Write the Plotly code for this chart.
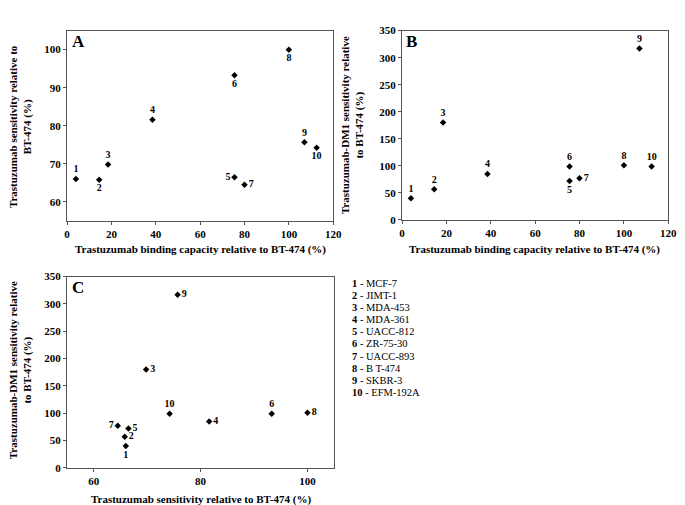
import plotly.graph_objects as go

W, H = 685, 505

ids = ["1", "2", "3", "4", "5", "6", "7", "8", "9", "10"]
cell_lines = ["MCF-7", "JIMT-1", "MDA-453", "MDA-361", "UACC-812",
              "ZR-75-30", "UACC-893", "B T-474", "SKBR-3", "EFM-192A"]
binding = [4, 14.5, 18.5, 38.5, 75.5, 75.5, 80, 100, 107, 112.5]
tras_sens = [66, 65.8, 69.8, 81.6, 66.5, 93.3, 64.5, 100, 75.7, 74.2]
tdm1_sens = [40, 57, 180, 85, 72, 99, 77, 101, 317, 99]

pos_a = ["top center", "bottom center", "top center", "top center", "middle left",
         "bottom center", "middle right", "bottom center", "top center", "bottom center"]
pos_b = ["top center", "top center", "top center", "top center", "bottom center",
         "top center", "middle right", "top center", "top center", "top center"]
pos_c = ["bottom center", "middle right", "middle right", "middle right", "middle right",
         "top center", "middle left", "middle right", "middle right", "top center"]

FONT = "Liberation Serif, Times New Roman, serif"

def px_x(p):
    return p / W

def px_y(p):
    return 1 - p / H

fig = go.Figure()

panels = [
    ("x", "y", binding, tras_sens, pos_a),
    ("x2", "y2", binding, tdm1_sens, pos_b),
    ("x3", "y3", tras_sens, tdm1_sens, pos_c),
]
for xa, ya, xs, ys, pos in panels:
    fig.add_trace(go.Scatter(
        x=xs, y=ys, xaxis=xa, yaxis=ya, mode="markers+text",
        text=["<b>%s</b>" % i for i in ids], textposition=pos,
        textfont=dict(family=FONT, size=10, color="black"),
        marker=dict(symbol="diamond", size=5, color="black"),
        showlegend=False, cliponaxis=False,
    ))

axis_common = dict(
    showgrid=False, zeroline=False, showline=True, linecolor="#555555",
    linewidth=1, mirror=True, ticks="outside", ticklen=3, tickcolor="#555555",
    tickfont=dict(family=FONT, size=11, color="black", weight="bold"),
)

fig.update_layout(
    width=W, height=H, margin=dict(l=0, r=0, t=0, b=0),
    paper_bgcolor="white", plot_bgcolor="white",
    xaxis=dict(domain=[px_x(57), px_x(328)], range=[0, 120], dtick=20,
               anchor="y", **axis_common),
    yaxis=dict(domain=[px_y(212), px_y(17)], range=[55, 105], dtick=10,
               anchor="x", **axis_common),
    xaxis2=dict(domain=[px_x(398), px_x(669)], range=[0, 120], dtick=20,
                anchor="y2", **axis_common),
    yaxis2=dict(domain=[px_y(211), px_y(17)], range=[0, 350], dtick=50,
                anchor="x2", **axis_common),
    xaxis3=dict(domain=[px_x(57), px_x(329)], range=[55, 105], tickvals=[60, 80, 100],
                anchor="y3", **axis_common),
    yaxis3=dict(domain=[px_y(465), px_y(269)], range=[0, 350], dtick=50,
                anchor="x3", **axis_common),
)

ann = []
title_font = dict(family=FONT, size=11, color="black", weight="bold")
# x axis titles
for cx, cy, txt in [(193, 241, "Trastuzumab binding capacity relative to BT-474 (%)"),
                    (533, 241, "Trastuzumab binding capacity relative to BT-474 (%)"),
                    (193, 497, "Trastuzumab sensitivity relative to BT-474 (%)")]:
    ann.append(dict(x=px_x(cx), y=px_y(cy), xref="paper", yref="paper", text=txt,
                    showarrow=False, font=title_font, xanchor="center", yanchor="middle"))
# y axis titles
for cx, cy, txt in [(9, 115, "Trastuzumab sensitivity relative to<br>BT-474 (%)"),
                    (347, 114, "Trastuzumab-DM1 sensitivity relative<br>to BT-474 (%)"),
                    (9, 365, "Trastuzumab-DM1 sensitivity relative<br>to BT-474 (%)")]:
    ann.append(dict(x=px_x(cx), y=px_y(cy), xref="paper", yref="paper", text=txt,
                    showarrow=False, font=title_font, textangle=-90, borderpad=0,
                    xanchor="center", yanchor="middle"))
# panel letters
for cx, cy, txt in [(60, 16, "A"), (400, 16, "B"), (60, 268, "C")]:
    ann.append(dict(x=px_x(cx), y=px_y(cy), xref="paper", yref="paper", text=txt,
                    showarrow=False, xanchor="left", yanchor="top",
                    font=dict(family=FONT, size=17, color="black", weight="bold")))
# legend
for k, (i, name) in enumerate(zip(ids, cell_lines)):
    ann.append(dict(x=px_x(346), y=px_y(276 + k * 12.4), xref="paper", yref="paper",
                    text="<b>%s</b> - %s" % (i, name), showarrow=False,
                    xanchor="left", yanchor="middle", borderpad=0,
                    font=dict(family=FONT, size=10.5, color="black")))
fig.update_layout(annotations=ann)

fig.write_html("out.html")
